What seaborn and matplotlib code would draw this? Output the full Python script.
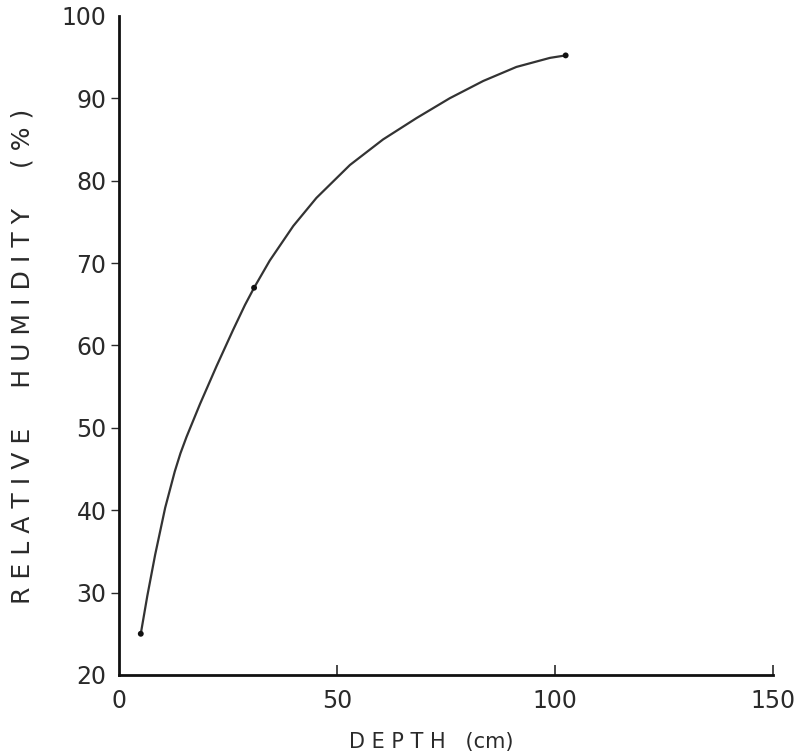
import matplotlib
matplotlib.use("Agg")
import matplotlib.pyplot as plt
import seaborn as sns
import pandas as pd

# Measured relative humidity at three depths
depth_obs = [5, 31, 102.5]
humidity_obs = [25, 67, 95.2]

# Hand-drawn smooth curve through the measurements
curve_depth = [5, 6.5, 8.3, 10.6, 12.8, 14.1, 15.5, 18.6, 22.4, 26.2, 28.9,
               31, 34.6, 40.0, 45.3, 53.0, 60.6, 68.3, 75.9, 83.6, 91.2,
               98.9, 102.5]
curve_humidity = [25, 29.6, 34.6, 40.3, 44.7, 46.9, 48.9, 52.9, 57.5, 61.9,
                  64.9, 67, 70.3, 74.5, 77.9, 81.9, 85.0, 87.6, 90.0, 92.1,
                  93.8, 94.9, 95.2]

x_ticks = [0, 50, 100, 150]
y_ticks = [20, 30, 40, 50, 60, 70, 80, 90, 100]

sns.set_theme(style="ticks")
plt.rcParams["font.family"] = ["DejaVu Sans"]

ink = "#2a2a2a"
fig = plt.figure(figsize=(8.04, 7.55), dpi=100)
ax = fig.add_axes([0.148, 0.106, 0.813, 0.873])

curve = pd.DataFrame({"depth": curve_depth, "humidity": curve_humidity})
obs = pd.DataFrame({"depth": depth_obs, "humidity": humidity_obs})

sns.lineplot(data=curve, x="depth", y="humidity", ax=ax, color="#333333",
             linewidth=1.6, sort=False, estimator=None,
             solid_joinstyle="round", solid_capstyle="round")
sns.scatterplot(data=obs, x="depth", y="humidity", ax=ax, color="#111111",
                s=18, edgecolor="none", zorder=3)

ax.set_xlim(0, 150)
ax.set_ylim(20, 100)
ax.set_xticks(x_ticks)
ax.set_yticks(y_ticks)
ax.set_xticklabels([str(v) for v in x_ticks], fontsize=17, color=ink)
ax.set_yticklabels([str(v) for v in y_ticks], fontsize=17, color=ink)

ax.tick_params(axis="x", direction="in", length=7, width=1.2, color=ink, pad=10)
ax.tick_params(axis="y", direction="out", length=6, width=1.0, color=ink, pad=3)
# no tick marks at the corner or top end
for t in ax.yaxis.get_major_ticks():
    if t.get_loc() in (20, 100):
        t.tick1line.set_visible(False)
for t in ax.xaxis.get_major_ticks():
    if t.get_loc() == 0:
        t.tick1line.set_visible(False)

for side in ("top", "right"):
    ax.spines[side].set_visible(False)
for side in ("left", "bottom"):
    ax.spines[side].set_color("#111111")
    ax.spines[side].set_linewidth(2.0)

ax.set_xlabel("D E P T H   (cm)", fontsize=15, color=ink)
ax.set_ylabel("R E L A T I V E     H U M I D I T Y     ( % )", fontsize=18,
              color=ink)
ax.xaxis.set_label_coords(0.477, -0.086)
ax.yaxis.set_label_coords(-0.13, 0.484)

fig.savefig("out.png", dpi=100, facecolor="white")
